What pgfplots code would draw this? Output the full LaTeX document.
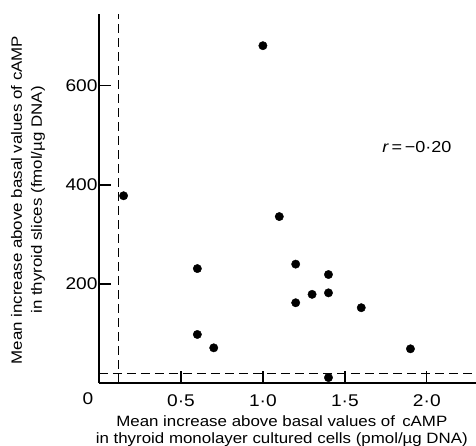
\documentclass[border=0pt]{standalone}
\usepackage{fontspec}
\setmainfont[FakeStretch=1.13]{Liberation Sans}
\usepackage{pgfplots}
\pgfplotsset{compat=1.18}
\begin{document}
\begin{tikzpicture}
\begin{axis}[
  scale only axis,
  width=377bp, height=369bp,
  xmin=0, xmax=2.3, ymin=0, ymax=745,
  axis x line*=bottom, axis y line*=left,
  axis line style={line width=1.7bp},
  tick align=inside,
  major tick length=12bp,
  tick style={line width=1.3bp, black},
  xtick={0.5,1,1.5,2},
  xticklabels={0·5,1·0,1·5,2·0},
  ytick={200,400,600},
  yticklabels={200,400,600},
  tick label style={font=\fontsize{17}{19}\selectfont},
  xticklabel style={yshift=-8bp},
  yticklabel style={xshift=2bp},
  xlabel={Mean increase above basal values of\, cAMP\\in thyroid monolayer cultured cells (pmol/µg DNA)},
  ylabel={Mean increase above basal values of cAMP\\in thyroid slices (fmol/µg DNA)},
  x label style={at={(axis description cs:0.485,0)}, anchor=center, yshift=-48.5bp, align=center, font=\fontsize{15}{17}\selectfont},
  y label style={at={(axis description cs:0,0.496)}, anchor=center, yshift=71bp, align=center, font=\fontsize{15}{20}\selectfont},
  clip=false,
]
\addplot[black, line width=1.1bp, dash pattern=on 9bp off 5bp] coordinates {(0,20) (2.3,20)};
\addplot[black, line width=1.1bp, dash pattern=on 9bp off 5bp] coordinates {(0.12,0) (0.12,745)};
\addplot[only marks, mark=*, mark size=4.2bp, black] coordinates {
(0.15,378) (1.0,681) (1.1,336) (0.6,231) (1.2,240) (1.4,219) (1.3,179)
(1.4,182) (1.2,162) (1.6,152) (0.6,98) (0.7,71) (1.9,69) (1.4,11)
};
\node[font=\fontsize{16}{18}\selectfont] at (axis cs:1.94,476) {\textit{r}\,=\,−0·20};
\node[font=\fontsize{17}{19}\selectfont, anchor=center] at (axis cs:-0.067,-31) {0};
\end{axis}
\pgfresetboundingbox
\useasboundingbox (-99bp,-63bp) rectangle (377bp,383bp);
\end{tikzpicture}
\end{document}
